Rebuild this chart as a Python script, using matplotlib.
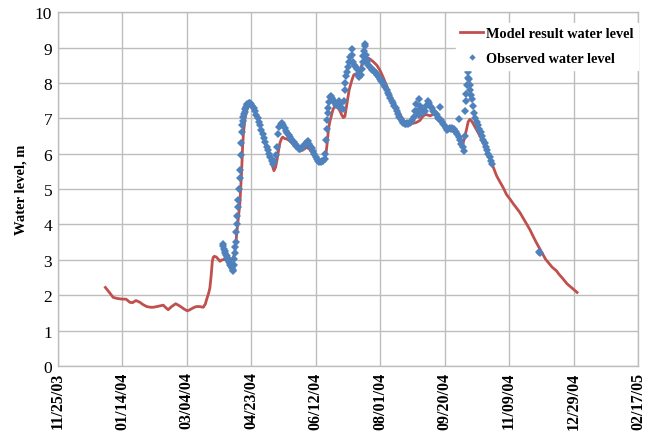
import datetime as dt
import matplotlib
matplotlib.use("Agg")
import matplotlib.pyplot as plt

# Reference date for the day offsets below
start_date = dt.datetime(2003, 11, 25)

# Model result water level (day offset, level in m)
model_day = [37, 40.5, 43, 46, 50, 53, 56, 58, 60.7, 63.8, 66, 69, 72, 74, 77, 79.3, 81.9,
             83.5, 85.7, 88, 91.5, 94, 96.1, 98, 100.5, 102, 103.9, 106, 107.7, 110, 112.9,
             114.5, 115.5, 117, 118, 119, 119.9, 120.6, 121.5, 123, 124.5, 125.8, 127.5, 129,
             131, 133.6, 135, 136.1, 137, 138, 139, 140, 141.3, 142.6, 143.4, 144, 145.2,
             146.5, 148.5, 150, 151.6, 153.5, 155.5, 158, 160.7, 163.5, 165.9, 167.7, 169,
             170.2, 171.3, 172.3, 173.5, 174.4, 176, 178, 180, 182.6, 185, 187.8, 190, 193,
             195, 196.9, 199, 202, 204.6, 206.5, 207.9, 209, 210, 211, 212.4, 213.5, 215,
             217.5, 219, 220.2, 221.5, 222.7, 224, 226, 227.9, 229.5, 230.5, 232, 233, 234.5,
             235.7, 237.5, 239.5, 242, 244.7, 247.5, 249.9, 252.5, 255.1, 257.5, 260.2, 263,
             265.4, 267.5, 269.2, 272, 275.7, 278, 280.9, 283, 284.8, 286.5, 288.7, 290.5,
             292.6, 294.5, 296.4, 299, 302.8, 304.5, 306.7, 308.5, 310.6, 312.5, 314.4, 315.5,
             317, 318.3, 319.6, 321, 322.2, 324.8, 327.5, 330, 332.5, 335.2, 337.8, 340.3, 343,
             345.5, 348, 350.7, 353, 355.5, 358.4, 361, 363.5, 366.1, 368.5, 371, 373.9, 378.3,
             380.3, 383.5, 386.8, 388.6, 391, 395.1, 399, 402.8]
model_level = [2.22, 2.06, 1.94, 1.91, 1.89, 1.89, 1.80, 1.79, 1.85, 1.80, 1.74, 1.68, 1.66,
               1.66, 1.68, 1.70, 1.72, 1.66, 1.59, 1.67, 1.76, 1.71, 1.66, 1.61, 1.56, 1.58,
               1.62, 1.66, 1.68, 1.68, 1.66, 1.75, 1.88, 2.05, 2.20, 2.55, 2.95, 3.07, 3.10,
               3.08, 3.02, 2.96, 3.00, 3.01, 2.99, 2.97, 3.02, 3.07, 3.15, 3.40, 3.80, 4.15,
               4.60, 5.47, 6.20, 6.55, 6.98, 7.22, 7.38, 7.40, 7.33, 7.18, 6.98, 6.65, 6.32,
               6.00, 5.72, 5.52, 5.62, 5.85, 6.10, 6.30, 6.42, 6.47, 6.43, 6.41, 6.36, 6.27,
               6.17, 6.08, 6.10, 6.18, 6.14, 6.05, 5.95, 5.80, 5.72, 5.80, 5.95, 6.30, 6.69,
               6.90, 7.10, 7.25, 7.35, 7.30, 7.20, 7.10, 7.02, 7.05, 7.35, 7.80, 8.05, 8.22,
               8.25, 8.20, 8.15, 8.30, 8.50, 8.65, 8.72, 8.68, 8.60, 8.50, 8.36, 8.15, 7.92,
               7.70, 7.48, 7.28, 7.12, 6.98, 6.88, 6.86, 6.86, 6.88, 6.94, 7.05, 7.10, 7.10,
               7.07, 7.10, 7.12, 7.05, 6.97, 6.82, 6.65, 6.65, 6.64, 6.58, 6.50, 6.40, 6.30,
               6.45, 6.68, 6.90, 6.97, 6.92, 6.85, 6.68, 6.50, 6.30, 6.08, 5.85, 5.62, 5.38,
               5.20, 5.04, 4.85, 4.72, 4.60, 4.48, 4.34, 4.18, 4.02, 3.86, 3.68, 3.50, 3.31,
               3.02, 2.93, 2.79, 2.69, 2.60, 2.50, 2.32, 2.20, 2.08]

# Observed water level (day offset, level in m)
obs_day = [128, 128.5, 129, 129.5, 130, 130.5, 131, 131.5, 132, 132.5, 133, 133.5, 134, 134.5,
           135, 135.5, 136, 136.3, 136.6, 137, 137.4, 137.8, 138.2, 138.6, 139, 139.4, 139.8,
           140.2, 140.6, 141, 141.4, 141.8, 142.2, 142.6, 143, 143.5, 144, 144.5, 145, 145.5,
           146, 146.5, 147, 148, 149, 150, 151, 152, 153, 154, 155, 156, 157, 158, 159, 160,
           161, 162, 163, 164, 165, 166, 167, 168, 169, 170, 171, 172, 173, 174, 175, 176,
           177, 178, 179, 180, 181, 182, 183, 184, 185, 186, 187, 188, 189, 190, 191, 192,
           193, 194, 195, 196, 197, 198, 199, 200, 201, 202, 203, 204, 205, 206, 207, 207.5,
           208, 208.5, 209, 209.5, 210, 210.5, 211, 212, 213, 214, 215, 216, 217, 218, 219,
           220, 221, 222, 222.5, 223, 223.5, 224, 225, 226, 227, 228, 228.5, 229, 230, 231,
           232, 233, 234, 235, 236, 236.5, 237, 237.5, 238, 238.5, 239, 239.5, 240, 241, 242,
           243, 244, 245, 246, 247, 248, 249, 250, 251, 252, 253, 254, 255, 256, 257, 258,
           259, 260, 261, 262, 263, 264, 265, 266, 267, 268, 269, 270, 271, 272, 273, 274,
           275, 276, 277, 278, 279, 280, 280.5, 281, 282, 283, 284, 285, 286, 287, 288, 289,
           290, 291, 292, 293, 294, 295, 296, 296.5, 297, 298, 299, 300, 301, 302, 303, 304,
           305, 306, 307, 308, 309, 310, 311, 311.5, 312, 313, 314, 315, 315.5, 316, 316.5,
           317, 317.5, 318, 318.5, 319, 319.5, 320, 320.5, 321, 322, 323, 324, 325, 326, 327,
           328, 329, 330, 331, 332, 333, 334, 335, 336, 337, 373.5, 374]
obs_level = [3.45, 3.38, 3.30, 3.24, 3.18, 3.14, 3.10, 3.06, 3.03, 3.00, 2.95, 2.90, 2.86,
             2.83, 2.80, 2.76, 2.72, 2.69, 2.85, 3.02, 3.20, 3.35, 3.50, 3.80, 4.00, 4.25,
             4.50, 4.70, 5.00, 5.30, 5.55, 5.95, 6.30, 6.60, 6.80, 6.92, 7.05, 7.12, 7.18,
             7.25, 7.32, 7.37, 7.40, 7.42, 7.42, 7.40, 7.36, 7.28, 7.20, 7.10, 7.00, 6.90,
             6.80, 6.68, 6.56, 6.44, 6.32, 6.20, 6.10, 6.00, 5.90, 5.80, 5.72, 5.78, 5.95,
             6.20, 6.55, 6.75, 6.85, 6.88, 6.82, 6.74, 6.65, 6.58, 6.52, 6.46, 6.42, 6.37,
             6.32, 6.28, 6.22, 6.18, 6.14, 6.12, 6.15, 6.18, 6.22, 6.28, 6.33, 6.36, 6.28,
             6.22, 6.16, 6.08, 6.00, 5.92, 5.86, 5.80, 5.77, 5.76, 5.78, 5.80, 5.86, 6.00,
             6.40, 6.70, 6.95, 7.15, 7.30, 7.45, 7.60, 7.64, 7.58, 7.50, 7.44, 7.38, 7.34,
             7.50, 7.40, 7.30, 7.25, 7.50, 7.80, 8.00, 8.20, 8.30, 8.45, 8.60, 8.72, 8.80,
             8.95, 8.60, 8.50, 8.45, 8.38, 8.25, 8.18, 8.22, 8.40, 8.60, 8.75, 8.90, 9.05,
             9.10, 8.80, 8.65, 8.58, 8.52, 8.46, 8.42, 8.37, 8.33, 8.30, 8.27, 8.22, 8.16,
             8.10, 8.05, 8.00, 7.95, 7.88, 7.80, 7.72, 7.65, 7.58, 7.50, 7.44, 7.36, 7.28,
             7.20, 7.12, 7.05, 6.98, 6.92, 6.88, 6.85, 6.84, 6.86, 6.84, 6.86, 6.90, 6.95,
             7.05, 7.20, 7.40, 7.20, 7.10, 7.54, 7.35, 7.25, 7.20, 7.18, 7.22, 7.35, 7.50,
             7.42, 7.35, 7.28, 7.22, 7.18, 7.12, 7.08, 7.02, 6.98, 7.31, 6.94, 6.90, 6.85,
             6.78, 6.72, 6.68, 6.70, 6.72, 6.70, 6.72, 6.70, 6.65, 6.60, 6.55, 6.48, 6.98,
             6.40, 6.28, 6.18, 6.08, 6.50, 7.20, 7.50, 7.70, 7.95, 8.15, 8.30, 8.10, 7.95,
             7.80, 7.65, 7.55, 7.35, 7.15, 7.00, 6.90, 6.80, 6.70, 6.60, 6.50, 6.40, 6.30,
             6.20, 6.10, 6.00, 5.90, 5.80, 5.72, 3.22, 3.18]

# Axis ticks
tick_labels = ["11/25/03", "01/14/04", "03/04/04", "04/23/04", "06/12/04",
               "08/01/04", "09/20/04", "11/09/04", "12/29/04", "02/17/05"]
y_ticks = [0, 1, 2, 3, 4, 5, 6, 7, 8, 9, 10]

serif = ["Liberation Serif", "DejaVu Serif"]
model_color = "#C0504D"
obs_color = "#4F81BD"
grid_color = "#BDBDBD"

def to_dates(days):
    return [start_date + dt.timedelta(days=d) for d in days]

fig = plt.figure(figsize=(6.51, 4.39), dpi=100)
ax = fig.add_axes([0.0886, 0.164, 0.8914, 0.806])

ax.plot(to_dates(model_day), model_level, color=model_color, lw=2.0,
        label="Model result water level", zorder=3)
ax.plot(to_dates(obs_day), obs_level, linestyle="none", marker="D", markersize=4.0,
        color=obs_color, markeredgewidth=0, label="Observed water level", zorder=4)

tick_dates = [dt.datetime.strptime(t, "%m/%d/%y") for t in tick_labels]
ax.set_xlim(tick_dates[0], tick_dates[-1])
ax.set_xticks(tick_dates)
ax.set_xticklabels(tick_labels, rotation=90, fontfamily=serif, fontweight="bold", fontsize=11.5)
ax.set_ylim(0, 10)
ax.set_yticks(y_ticks)
ax.set_yticklabels([str(v) for v in y_ticks], fontfamily=serif, fontsize=12.5)
ax.tick_params(length=0, pad=4)

ax.grid(True, color=grid_color, lw=1.0)
ax.set_axisbelow(True)
for s in ax.spines.values():
    s.set_color(grid_color)
    s.set_linewidth(1.0)

ax.set_ylabel("Water level, m", fontfamily=serif, fontweight="bold", fontsize=10.5,
              labelpad=5)

leg = ax.legend(loc="upper right", bbox_to_anchor=(1.012, 0.99), frameon=True,
                prop={"family": serif, "weight": "bold", "size": 10.3},
                handlelength=1.6, handletextpad=0.2, borderpad=0.3, labelspacing=0.85,
                fancybox=False, markerscale=0.8)
leg.get_frame().set_edgecolor("white")
leg.get_frame().set_facecolor("white")
leg.get_frame().set_alpha(1.0)

fig.savefig("out.png", dpi=100)
